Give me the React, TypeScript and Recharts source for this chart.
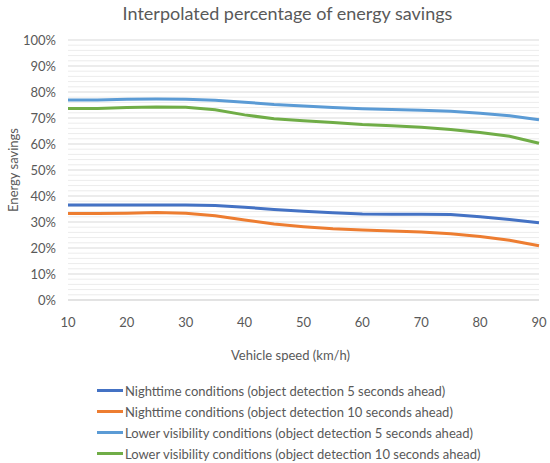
import React from "react"
import {
  LineChart,
  Line,
  XAxis,
  YAxis,
  CartesianGrid,
} from "recharts"

const speeds = [10, 15, 20, 25, 30, 35, 40, 45, 50, 55, 60, 65, 70, 75, 80, 85, 90]
const night5 = [36.5, 36.5, 36.5, 36.5, 36.5, 36.3, 35.7, 34.8, 34.1, 33.6, 33.1, 33.0, 33.0, 32.9, 32.0, 31.0, 29.7]
const night10 = [33.3, 33.3, 33.4, 33.7, 33.4, 32.4, 30.8, 29.2, 28.2, 27.4, 26.9, 26.5, 26.2, 25.5, 24.4, 23.0, 20.9]
const lowVis5 = [76.9, 76.9, 77.2, 77.3, 77.2, 76.8, 76.1, 75.2, 74.6, 74.0, 73.6, 73.3, 73.0, 72.6, 71.8, 70.9, 69.3]
const lowVis10 = [73.7, 73.7, 74.0, 74.2, 74.1, 73.2, 71.2, 69.7, 68.9, 68.3, 67.5, 67.0, 66.4, 65.6, 64.4, 63.0, 60.3]

// gridlines every 2%, labels every 10%
const yTicks = [0, 2, 4, 6, 8, 10, 12, 14, 16, 18, 20, 22, 24, 26, 28, 30, 32, 34, 36, 38, 40, 42, 44, 46, 48, 50, 52, 54, 56, 58, 60, 62, 64, 66, 68, 70, 72, 74, 76, 78, 80, 82, 84, 86, 88, 90, 92, 94, 96, 98, 100]
const xTicks = [10, 20, 30, 40, 50, 60, 70, 80, 90]

const seriesInfo = [
  { key: "night5", name: "Nighttime conditions (object detection 5 seconds ahead)", color: "#4472C4" },
  { key: "night10", name: "Nighttime conditions (object detection 10 seconds ahead)", color: "#ED7D31" },
  { key: "lowVis5", name: "Lower visibility conditions (object detection 5 seconds ahead)", color: "#5B9BD5" },
  { key: "lowVis10", name: "Lower visibility conditions (object detection 10 seconds ahead)", color: "#70AD47" },
]

const data = speeds.map((s, i) => ({
  speed: s,
  night5: night5[i],
  night10: night10[i],
  lowVis5: lowVis5[i],
  lowVis10: lowVis10[i],
}))

const font = "Lato, 'Open Sans', sans-serif"
const textColor = "#595959"

// y title drawn by hand so it sits near the left edge like the original
function YTitle(props: any) {
  const { viewBox } = props
  const cx = 13
  const cy = viewBox.y + viewBox.height / 2
  return (
    <text
      x={cx}
      y={cy}
      transform={`rotate(-90, ${cx}, ${cy})`}
      textAnchor="middle"
      dominantBaseline="central"
      fontSize={13}
      fill={textColor}
    >
      Energy savings
    </text>
  )
}

function YTick(props: any) {
  const { x, y, payload } = props
  if (payload.value % 10 !== 0) return <g />
  return (
    <text x={x} y={y} dy={4.5} textAnchor="end" fontSize={13} fill={textColor}>
      {`${payload.value}%`}
    </text>
  )
}

function GridLine(props: any) {
  const { x1, y1, x2, y2, index } = props
  const major = index % 5 === 0
  return (
    <line
      x1={x1}
      y1={y1}
      x2={x2}
      y2={y2}
      stroke={major ? "#d9d9d9" : "#ececec"}
      strokeWidth={1}
    />
  )
}

export default function App() {
  return (
    <div style={{ position: "absolute", left: 0, top: 0, width: 550, height: 463, background: "#fff" }}>
      <div
        style={{
          position: "absolute",
          top: 2,
          left: 0,
          width: 575,
          textAlign: "center",
          fontFamily: font,
          fontSize: 18,
          color: textColor,
        }}
      >
        Interpolated percentage of energy savings
      </div>
      <LineChart
        width={550}
        height={463}
        data={data}
        margin={{ top: 40, right: 11, bottom: 133, left: 0 }}
        style={{ fontFamily: font }}
      >
        <CartesianGrid vertical={false} horizontal={(p: any) => <GridLine key={p.key} {...p} />} />
        <XAxis
          dataKey="speed"
          type="number"
          domain={[10, 90]}
          ticks={xTicks}
          axisLine={{ stroke: "#d9d9d9" }}
          tickLine={false}
          tick={{ fontSize: 13, fill: textColor }}
          tickMargin={12}
          label={{ value: "Vehicle speed (km/h)", position: "insideBottom", offset: -30, dx: -13, fontSize: 13, fill: textColor }}
        />
        <YAxis
          domain={[0, 100]}
          ticks={yTicks}
          interval={0}
          width={68}
          axisLine={false}
          tickLine={false}
          tick={<YTick />}
          tickMargin={6}
          label={<YTitle />}
        />
        {seriesInfo.map((s) => (
          <Line
            key={s.key}
            dataKey={s.key}
            name={s.name}
            stroke={s.color}
            strokeWidth={3}
            dot={false}
            type="linear"
            isAnimationActive={false}
          />
        ))}
      </LineChart>
      <div
        style={{
          position: "absolute",
          left: 97,
          top: 380,
          fontFamily: font,
          fontSize: 13,
          color: textColor,
        }}
      >
        {seriesInfo.map((s) => (
          <div key={s.key} style={{ display: "flex", alignItems: "center", height: 21 }}>
            <span style={{ width: 26, height: 3, background: s.color, display: "inline-block", marginRight: 2 }} />
            <span>{s.name}</span>
          </div>
        ))}
      </div>
    </div>
  )
}
